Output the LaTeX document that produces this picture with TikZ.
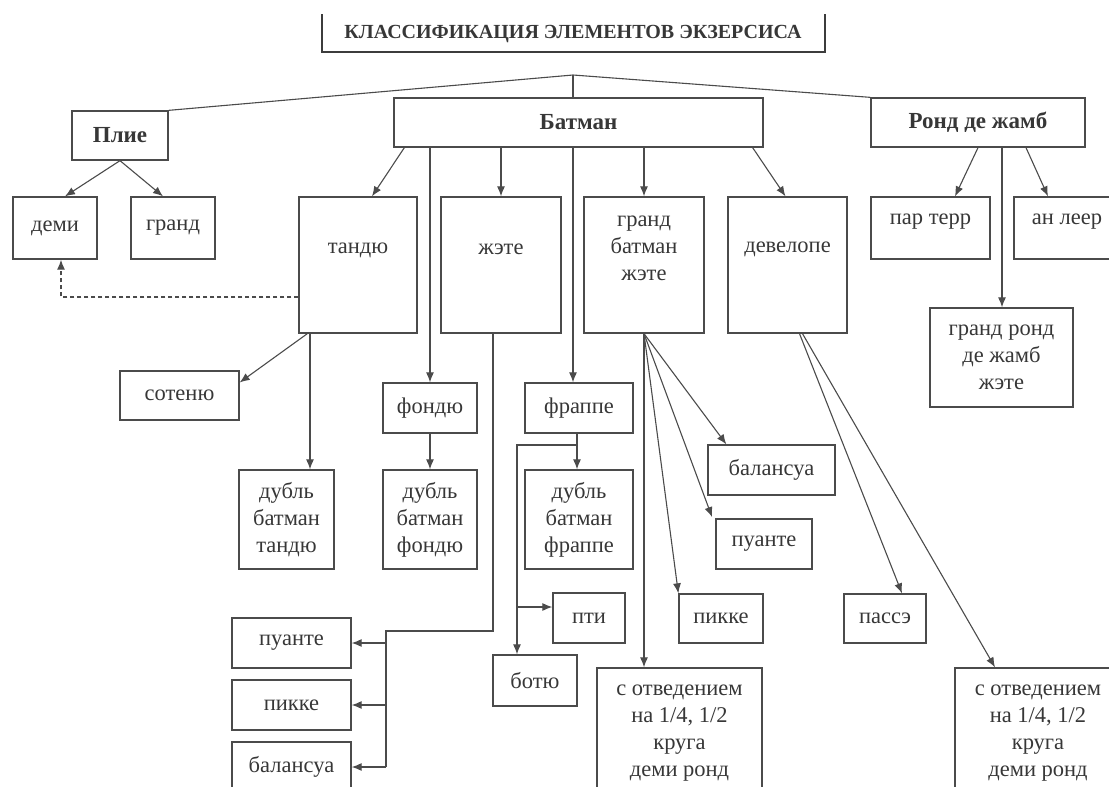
\documentclass[tikz,border=0pt]{standalone}
\usepackage{fontspec}
\setmainfont{Liberation Serif}
\usetikzlibrary{arrows.meta}
\definecolor{linec}{RGB}{75,75,75}
\definecolor{txtc}{RGB}{55,55,55}
\begin{document}
\begin{tikzpicture}[x=1pt,y=-1pt,
  box/.style={draw=linec, line width=1.3pt, inner sep=0pt, align=center, text=txtc,
    font=\fontsize{22.5}{27}\selectfont},
  bbox/.style={box, font=\bfseries\fontsize{23}{27}\selectfont},
  lbl/.style={inner sep=0pt, align=center, text=txtc, font=\fontsize{22.5}{27}\selectfont},
  line/.style={draw=linec, line width=1.1pt},
  arr/.style={line, -{Latex[length=10pt,width=8pt]}},
  dsh/.style={arr, line width=1.3pt, dash pattern=on 4pt off 3pt},
  titleline/.style={draw=linec!80!black, line width=2.4pt}]
\useasboundingbox (0,0) rectangle (1109,787);
\clip (0,0) rectangle (1109,787);

% title
\node[inner sep=0pt, text=txtc, font=\bfseries\fontsize{20}{22}\selectfont] (title) at (573,34) {КЛАССИФИКАЦИЯ ЭЛЕМЕНТОВ ЭКЗЕРСИСА};
\draw[titleline] (322,14) -- (322,52) -- (825,52) -- (825,14);
\coordinate (apex) at (573,75);

% level 1
\node[bbox, minimum width=96, minimum height=49] (plie) at (120,135.5) {Плие};
\node[bbox, minimum width=369, minimum height=49] (bat) at (578.5,122.5) {Батман};
\node[bbox, minimum width=214, minimum height=49] (rond) at (978,122.5) {Ронд де жамб};

% level 2
\node[box, minimum width=84, minimum height=62] (demi) at (55,228) {деми};
\node[box, minimum width=84, minimum height=62] (grand) at (173,228) {гранд};
\node[box, minimum width=118, minimum height=136] (tandu) at (358,265) {};
\node[lbl] (tanduT) at (358,250) {тандю};
\node[box, minimum width=120, minimum height=136] (jete) at (501,265) {};
\node[lbl] (jeteT) at (501,249) {жэте};
\node[box, minimum width=120, minimum height=136] (gbj) at (644,265) {};
\node[lbl] (gbjT) at (644,248) {гранд\\батман\\жэте};
\node[box, minimum width=119, minimum height=136] (devl) at (787.5,265) {};
\node[lbl] (devlT) at (787.5,249) {девелопе};
\node[box, minimum width=119, minimum height=62] (parterr) at (930.5,228) {};
\node[lbl] (parterrT) at (930.5,222) {пар терр};
\node[box, minimum width=106, minimum height=62] (anleer) at (1067,228) {};
\node[lbl] (anleerT) at (1067,222) {ан леер};
\node[box, minimum width=143, minimum height=99] (grond) at (1001.5,357.5) {гранд ронд\\де жамб\\жэте};

% level 3
\node[box, minimum width=119, minimum height=49] (sot) at (179.5,395.5) {сотеню};
\node[box, minimum width=94, minimum height=50] (fondu) at (430,408) {фондю};
\node[box, minimum width=108, minimum height=50] (frappe) at (579,408) {фраппе};
\node[box, minimum width=95, minimum height=99] (dbt) at (286.5,519.5) {дубль\\батман\\тандю};
\node[box, minimum width=94, minimum height=99] (dbf) at (430,519.5) {дубль\\батман\\фондю};
\node[box, minimum width=108, minimum height=99] (dbfr) at (579,519.5) {дубль\\батман\\фраппе};
\node[box, minimum width=127, minimum height=50] (bal1) at (771.5,470) {балансуа};
\node[box, line width=1.9pt, minimum width=96, minimum height=50] (pu1) at (764,544) {пуанте};
\node[box, minimum width=72, minimum height=50] (pti) at (589,618) {пти};
\node[box, minimum width=84, minimum height=49] (pik1) at (721,618.5) {пикке};
\node[box, minimum width=82, minimum height=49] (passe) at (885,618.5) {пассэ};
\node[box, minimum width=84, minimum height=51] (botiu) at (535,680.5) {ботю};
\node[box, minimum width=119, minimum height=50] (pu2) at (291.5,643) {пуанте};
\node[box, minimum width=119, minimum height=50] (pik2) at (291.5,705) {пикке};
\node[box, minimum width=119, minimum height=50] (bal2) at (291.5,767) {балансуа};
\node[box, minimum width=165, minimum height=142] (sotv1) at (679.5,739) {};
\node[lbl] (sotv1T) at (679.5,733) {с отведением\\на 1/4, 1/2\\круга\\деми ронд};
\node[box, minimum width=166, minimum height=142] (sotv2) at (1038,739) {};
\node[lbl] (sotv2T) at (1038,733) {с отведением\\на 1/4, 1/2\\круга\\деми ронд};

% top connectors
\draw[line] (plie.north east) -- (apex) -- (rond.north west);
\draw[line] (apex) -- (apex |- bat.north);

% Plie
\draw[arr] (plie.south) -- ([xshift=10pt]demi.north);
\draw[arr] (plie.south) -- ([xshift=-10pt]grand.north);

% Batman
\draw[arr] ([xshift=11pt]bat.south west) -- ([xshift=14pt]tandu.north);
\draw[arr] (jete.north |- bat.south) -- (jete.north);
\draw[arr] (fondu.north |- bat.south) -- (fondu.north);
\coordinate (frIn) at ([xshift=-6pt]frappe.north);
\draw[arr] (frIn |- bat.south) -- (frIn);
\draw[arr] (gbj.north |- bat.south) -- (gbj.north);
\draw[arr] ([xshift=-11pt]bat.south east) -- ([xshift=-2pt]devl.north);

% Rond
\draw[arr] (rond.south) -- ([xshift=24.5pt]parterr.north);
\draw[arr] ([xshift=48pt]rond.south) -- ([xshift=-19pt]anleer.north);
\coordinate (grIn) at ([xshift=0.5pt]grond.north);
\draw[arr] (grIn |- rond.south) -- (grIn);

% tandu
\coordinate (dStart) at ([yshift=-32pt]tandu.west);
\draw[dsh] (dStart) -| ([xshift=6pt]demi.south);
\draw[arr] ([xshift=9pt]tandu.south west) -- ([yshift=13pt]sot.east);
\coordinate (dbtIn) at ([xshift=23.5pt]dbt.north);
\draw[arr] (dbtIn |- tandu.south) -- (dbtIn);

% fondu
\draw[arr] (fondu.south) -- (dbf.north);

% frappe
\coordinate (frOut) at ([xshift=-2pt]frappe.south);
\draw[arr] (frOut) -- (frOut |- dbfr.north);
\coordinate (fBr) at (577,445);
\coordinate (fCorner) at (517,445);
\coordinate (botIn) at ([xshift=-18pt]botiu.north);
\draw[arr] (fBr) -| (botIn);
\coordinate (ptiIn) at ([yshift=11pt]pti.west);
\draw[arr] (fCorner |- ptiIn) -- (ptiIn);

% jete branch
\coordinate (jOut) at ([xshift=-8pt]jete.south);
\coordinate (jCorner) at (386,631);
\draw[line] (jOut) |- (jCorner) -- (jCorner |- bal2.east);
\draw[arr] (jCorner |- pu2.east) -- (pu2.east);
\draw[arr] (jCorner |- pik2.east) -- (pik2.east);
\draw[arr] (jCorner |- bal2.east) -- (bal2.east);

% grand batman jete
\draw[arr] (gbj.south) -- ([xshift=19pt]bal1.north west);
\draw[arr] (gbj.south) -- ([xshift=-3pt,yshift=1pt]pu1.north west);
\draw[arr] (gbj.south) -- (pik1.north west);
\coordinate (s1In) at ([xshift=-35.5pt]sotv1.north);
\draw[arr] (s1In |- gbj.south) -- (s1In);

% developpe
\draw[arr] ([xshift=12pt]devl.south) -- ([xshift=17pt]passe.north);
\draw[arr] ([xshift=15pt]devl.south) -- ([xshift=-43pt]sotv2.north);
\end{tikzpicture}
\end{document}
